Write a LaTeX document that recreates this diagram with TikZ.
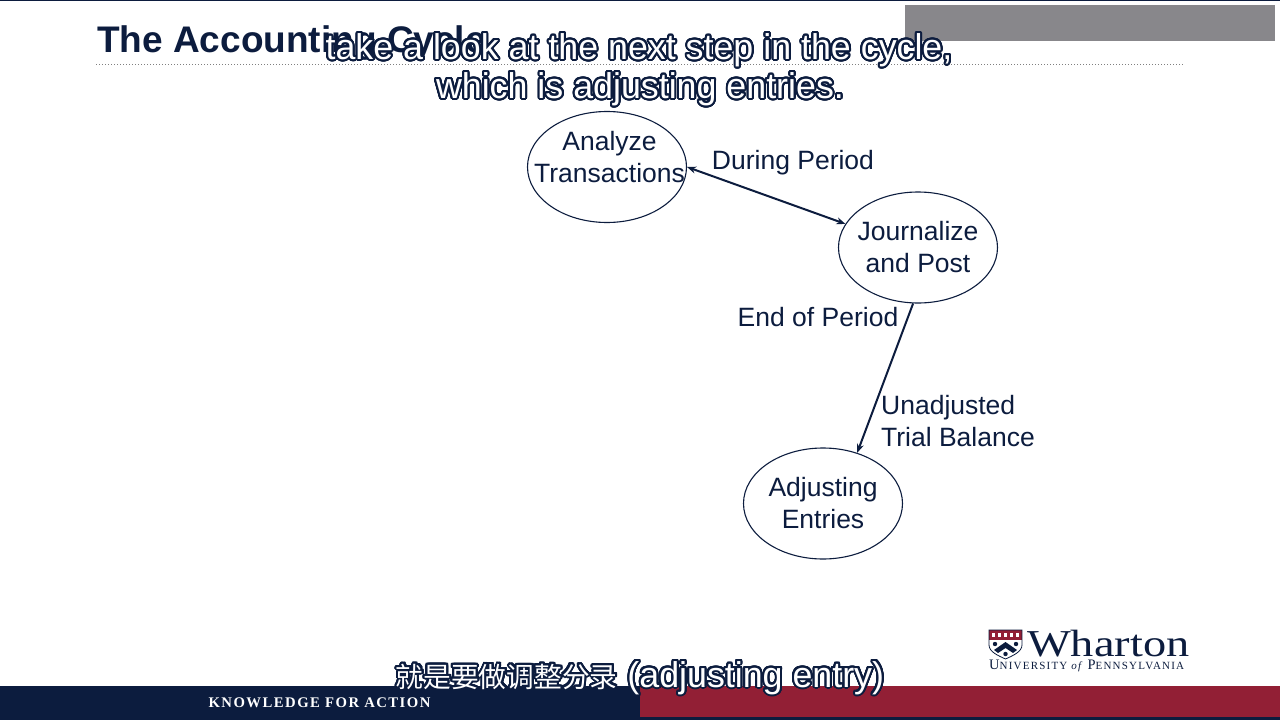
\documentclass[tikz,border=0pt]{standalone}
\usepackage{fontspec}
\usepackage[copies]{contour}
\setmainfont{Liberation Sans}
\newfontfamily\serifname{Liberation Serif}
\newfontfamily\cjkname{Noto Sans CJK SC}
\usetikzlibrary{shapes.geometric,arrows.meta}
\definecolor{navy}{HTML}{0C1C3E}
\definecolor{wred}{HTML}{921F35}
\definecolor{boxgray}{HTML}{88878B}
\contourlength{2pt}
\contournumber{32}
\newcommand{\capt}[1]{\contour{navy}{\textcolor{white}{#1}}}
\newcommand{\capsbig}[1]{{\fontsize{14.5}{15}\selectfont #1}}
\tikzset{
  stage/.style={draw=navy,ellipse,line width=1.1pt,minimum width=159pt,minimum height=111pt,inner xsep=-30pt,inner ysep=-10pt,text=navy,align=center,font=\fontsize{26.5}{32}\selectfont},
  lbl/.style={text=navy,inner sep=0pt,align=left,font=\fontsize{26.5}{32}\selectfont},
  flow/.style={draw=navy,line width=2pt,-{Stealth[length=9pt,width=7pt]}},
  subcap/.style={inner sep=0pt,font=\fontsize{35.8}{39}\selectfont}
}
\begin{document}
\begin{tikzpicture}[x=1pt,y=-1pt]
	  \useasboundingbox (0,0) rectangle (1280,720);
	  \fill[white] (0,0) rectangle (1280,720);
	  \fill[navy] (0,0) rectangle (1280,1);
	  \fill[boxgray] (905,5) rectangle (1275,41);
	  % title and rule
	  \node (title) [anchor=base west,inner sep=0pt,text=navy,font=\fontsize{37}{40}\selectfont\bfseries] at (97,52) {The Accounting Cycle};
	  \coordinate (ruleL) at (96,64);
	  \coordinate (ruleR) at (1184,64);
	  \draw[gray,line width=1pt,dotted] (ruleL) -- (ruleR);
	  % cycle
	  \node (analyze) [stage] at (607,167) {};
	  \node (analyzetxt) [lbl,align=center] at (609.5,157) {Analyze\\Transactions};
	  \node (journal) [stage] at (918,247.5) {Journalize\\and Post};
	  \node (adjust) [stage] at (823,503.5) {Adjusting\\Entries};
	  \draw[flow,{Stealth[length=9pt,width=7pt]}-{Stealth[length=9pt,width=7pt]}] (analyze.east) -- (journal.162);
	  \draw[flow] (journal.265) -- (adjust.56);
	  \node (during) [lbl] at (793,163) {During Period};
	  \node (endp) [lbl] at (818,317) {End of Period};
	  \node (trial) [lbl] at (958,421) {Unadjusted\\Trial Balance};
	  % footer
	  \fill[navy] (0,686) rectangle (1280,720);
	  \fill[wred] (640,686) rectangle (1280,717);
	  \node (motto) [inner sep=0pt,text=white,font=\serifname\bfseries\fontsize{14.7}{16}\selectfont] at (319.5,703) {\addfontfeature{LetterSpace=10}KNOWLEDGE FOR ACTION};
	  % logo
	  \fill[wred] (989,630) rectangle (1022,640);
	  \foreach \x in {992,998,1004,1010,1016}
	    \fill[white] (\x,633) rectangle +(3,4);
	  \draw[navy,line width=.8pt] (989,630) -- (1022,630) -- (1022,645) .. controls (1022,652) and (1012,656) .. (1005.5,659) .. controls (999,656) and (989,652) .. (989,645) -- cycle;
	  \fill[navy] (1005.5,642) -- (1017,650) -- (1013,653) -- (1005.5,648) -- (998,653) -- (994,650) -- cycle;
	  \foreach \x/\y in {1005.5/654,995/644,1016/644}
	    \fill[navy] (\x,\y) circle (2.2);
	  \node (wharton) [anchor=base west,inner sep=0pt,text=navy,font=\serifname\fontsize{38}{40}\selectfont] at (1027,656) {\addfontfeature{FakeStretch=1.22}Wharton};
	  \node (penn) [anchor=base west,inner sep=0pt,text=navy,font=\serifname\fontsize{11}{13}\selectfont] at (989,669) {\addfontfeature{LetterSpace=11}\capsbig{U}NIVERSITY \textit{of} \capsbig{P}ENNSYLVANIA};
	  % captions
	  \node (capA) [subcap] at (639,51) {\capt{take a look at the next step in the cycle,}};
	  \node (capB) [subcap] at (640,90) {\capt{which is adjusting entries.}};
	  \node (capC) [subcap,anchor=base] at (640,687) {\capt{{\cjkname\fontsize{27.7}{32}\selectfont 就是要做调整分录} (adjusting entry)}};
	\end{tikzpicture}
\end{document}
